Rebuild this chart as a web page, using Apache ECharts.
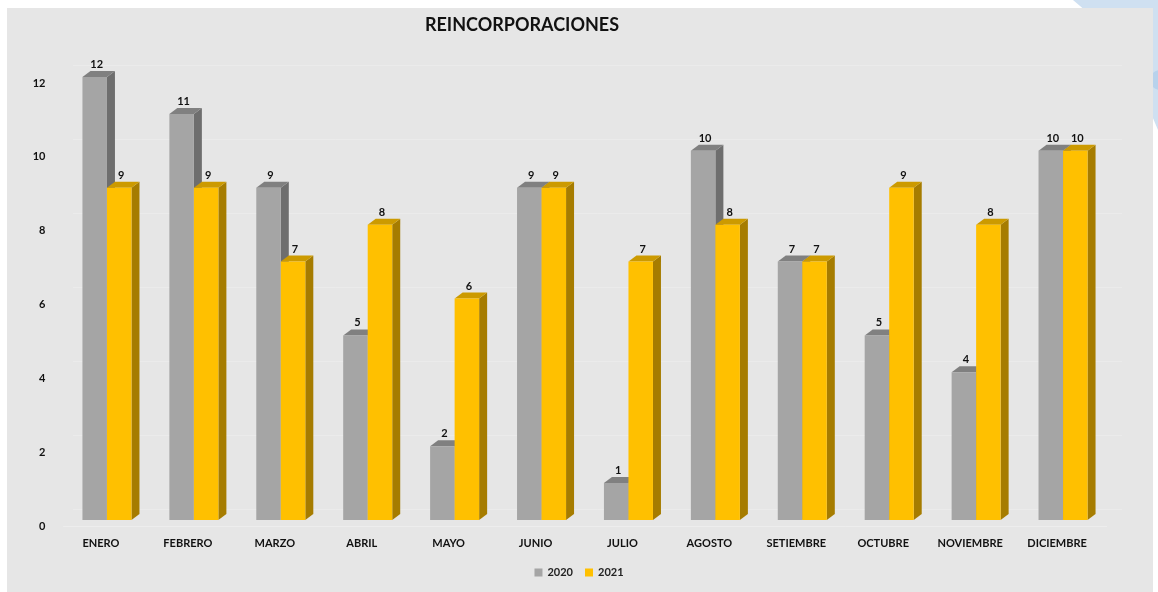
<!DOCTYPE html>
<html>
<head>
<meta charset="utf-8">
<script src="https://cdn.jsdelivr.net/npm/echarts@6/dist/echarts.min.js"></script>
<style>
  html, body { margin:0; padding:0; background:#ffffff; }
  #wrap { position:relative; width:1158px; height:592px; overflow:hidden; }
  #deco { position:absolute; left:0; top:0; }
  #panel { position:absolute; left:7px; top:8px; width:1146px; height:584px; background:#e6e6e6; }
  #chart { position:absolute; left:0; top:0; width:1158px; height:592px; }
</style>
</head>
<body>
<div id="wrap">
  <svg id="deco" width="1158" height="592">
    <polygon points="1073,0 1158,0 1158,130 1120,40" fill="#cfe0f1"/>
    <circle cx="1160" cy="80" r="10" fill="#b8d2ec"/>
  </svg>
  <div id="panel"></div>
  <div id="chart"></div>
</div>
<script>
const categories = ['ENERO','FEBRERO','MARZO','ABRIL','MAYO','JUNIO','JULIO','AGOSTO','SETIEMBRE','OCTUBRE','NOVIEMBRE','DICIEMBRE'];
const values2020 = [12, 11, 9, 5, 2, 9, 1, 10, 7, 5, 4, 10];
const values2021 = [9, 9, 7, 8, 6, 9, 7, 8, 7, 9, 8, 10];
const seriesNames = ['2020', '2021'];

const chart = echarts.init(document.getElementById('chart'), null, {renderer:'canvas'});

const faceColors = [
  {front:'#a5a5a5', side:'#6e6e6e', top:'#808080'},
  {front:'#ffc000', side:'#a67c00', top:'#cc9a00'}
];

function make3d(idx) {
  return function(params, api) {
    const xi = api.value(0), v = api.value(1);
    const base = api.coord([xi, 0]);
    const top = api.coord([xi, v]);
    const bw = api.size([1, 0])[0];
    const w = bw * 0.282;
    const dx = 8, dy = -6, off = -6;
    const x0 = idx === 0 ? base[0] - w : base[0];
    const yB = base[1] + off, yT = top[1] + off;
    const c = faceColors[idx];
    return {
      type:'group',
      children:[
        {type:'polygon', shape:{points:[[x0+w,yT],[x0+w+dx,yT+dy],[x0+w+dx,yB+dy],[x0+w,yB]]}, style:{fill:c.side}},
        {type:'polygon', shape:{points:[[x0,yT],[x0+dx,yT+dy],[x0+w+dx,yT+dy],[x0+w,yT]]}, style:{fill:c.top}},
        {type:'rect', shape:{x:x0, y:yT, width:w, height:yB-yT}, style:{fill:c.front}},
        {type:'text', style:{text:String(v), x:x0 + w/2 + 2, y:yT + dy - 1, align:'center', verticalAlign:'bottom', font:'bold 11px Lato', fill:'#111'}}
      ]
    };
  };
}

const option = {
  animation:false,
  backgroundColor:'transparent',
  title:{
    text:'REINCORPORACIONES', left:517, top:11, textAlign:'center',
    textStyle:{fontFamily:'Lato', fontWeight:'bold', fontSize:18, color:'#111'}
  },
  legend:{
    data:seriesNames, bottom:9, left:'center', icon:'rect', itemWidth:8, itemHeight:8, itemGap:12,
    textStyle:{fontFamily:'Lato', fontWeight:'bold', fontSize:11, color:'#222'}
  },
  grid:[
    {left:63.5, right:51.5, top:83, bottom:66},
    {left:73, right:36, top:65, bottom:83}
  ],
  xAxis:[
    {type:'category', gridIndex:0, data:categories,
     axisLine:{show:true, lineStyle:{color:'#ededed'}}, axisTick:{show:false},
     axisLabel:{margin:12, padding:[0,12,0,0], fontFamily:'Lato', fontWeight:'bold', fontSize:11, color:'#111'}},
    {type:'category', gridIndex:1, data:categories, show:false}
  ],
  yAxis:[
    {type:'value', gridIndex:0, min:0, max:12, interval:2,
     axisLine:{show:false}, axisTick:{show:false}, splitLine:{show:false},
     axisLabel:{margin:18, fontFamily:'Lato', fontWeight:'bold', fontSize:11, color:'#111'}},
    {type:'value', gridIndex:1, min:0, max:12, interval:2,
     axisLine:{show:false}, axisTick:{show:false}, axisLabel:{show:false},
     splitLine:{show:true, lineStyle:{color:'#ebebeb', width:1}}}
  ],
  series:[
    {name:seriesNames[0], type:'custom', xAxisIndex:0, yAxisIndex:0, color:'#a5a5a5',
     renderItem:make3d(0), data:values2020.map((v,i)=>[i,v]), encode:{x:0, y:1}},
    {name:seriesNames[1], type:'custom', xAxisIndex:0, yAxisIndex:0, color:'#ffc000',
     renderItem:make3d(1), data:values2021.map((v,i)=>[i,v]), encode:{x:0, y:1}}
  ]
};
chart.setOption(option);
</script>
</body>
</html>
